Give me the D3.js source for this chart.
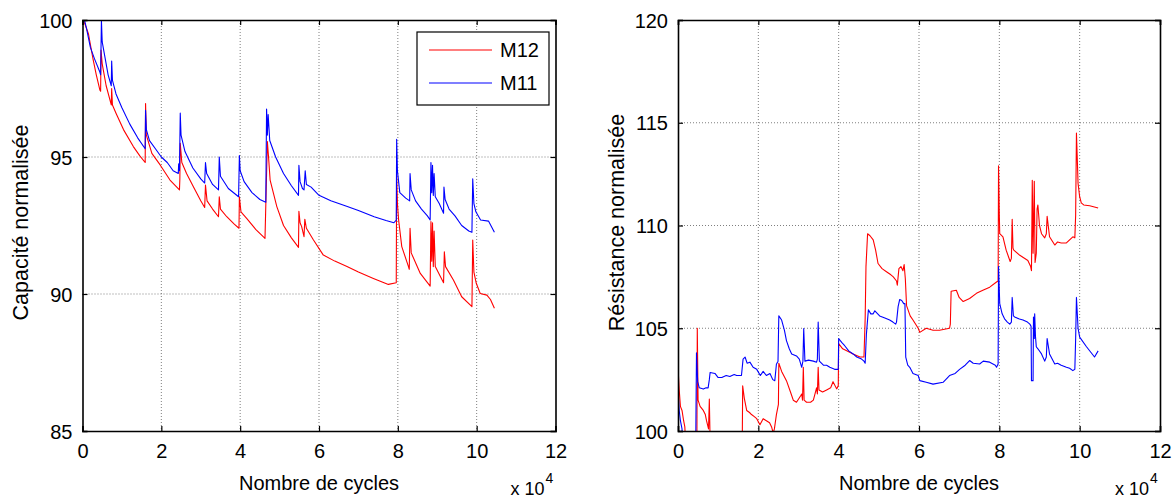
<!DOCTYPE html>
<html>
<head>
<meta charset="utf-8">
<script src="https://cdn.jsdelivr.net/npm/d3@7"></script>
<style>
  html, body { margin: 0; padding: 0; background: #fff; }
  svg { display: block; font-family: "Liberation Sans", Arial, sans-serif; }
</style>
</head>
<body>
<svg id="chart" width="1173" height="500"></svg>
<script>
// ---------------- DATA ----------------
const xTicks = [0, 2, 4, 6, 8, 10, 12];
const capTicks = [85, 90, 95, 100];
const resTicks = [100, 105, 110, 115, 120];
const seriesNames = ["M12", "M11"];
const xLabel = "Nombre de cycles";
const capLabel = "Capacité normalisée";
const resLabel = "Résistance normalisée";

// Capacité normalisée, [cycles x 10^4, %]
const capM12 = [[0,100],[0.05,99.9],[0.15,99.5],[0.27,98.55],[0.35,98.0],[0.44,97.45],[0.46,97.4],[0.47,98.9],[0.5,98.4],[0.6,97.6],[0.73,96.9],[0.74,97.5],[0.76,96.9],[0.85,96.6],[1.04,96.0],[1.29,95.38],[1.45,95.05],[1.59,94.8],[1.6,96.95],[1.62,95.8],[1.76,95.13],[1.97,94.71],[2.22,94.16],[2.46,93.8],[2.47,94.2],[2.48,95.5],[2.52,94.8],[2.64,94.4],[2.81,93.92],[3.0,93.4],[3.1,93.16],[3.12,93.98],[3.16,93.4],[3.3,93.1],[3.45,92.82],[3.47,93.55],[3.5,93.1],[3.66,92.82],[3.85,92.55],[3.97,92.4],[3.98,93.55],[4.02,93.0],[4.17,92.75],[4.4,92.35],[4.63,92.03],[4.69,95.56],[4.72,95.0],[4.76,94.16],[4.93,93.19],[5.1,92.5],[5.3,92.05],[5.48,91.7],[5.49,93.02],[5.52,92.6],[5.56,92.46],[5.62,92.09],[5.64,92.73],[5.68,92.4],[5.86,91.97],[6.11,91.42],[6.4,91.2],[6.71,91.0],[7.0,90.8],[7.38,90.57],[7.76,90.35],[7.96,90.41],[7.97,94.4],[7.99,93.3],[8.02,92.7],[8.1,91.73],[8.27,91.0],[8.29,90.9],[8.31,92.4],[8.34,91.5],[8.57,90.75],[8.82,90.29],[8.84,92.64],[8.86,91.2],[8.88,92.6],[8.9,91.0],[8.92,92.3],[8.95,91.0],[9.16,90.41],[9.18,91.54],[9.21,91.0],[9.41,90.51],[9.62,89.9],[9.88,89.54],[9.9,91.97],[9.93,90.8],[9.99,90.39],[10.09,90.02],[10.26,89.96],[10.35,89.8],[10.45,89.48]];
const capM11 = [[0,100],[0.05,100],[0.1,99.7],[0.2,99.0],[0.3,98.6],[0.44,98.1],[0.46,98.0],[0.48,100],[0.5,99.2],[0.55,98.8],[0.65,98.0],[0.73,97.6],[0.74,98.5],[0.76,97.8],[0.85,97.3],[1.0,96.8],[1.2,96.2],[1.4,95.7],[1.59,95.3],[1.6,96.7],[1.62,96.0],[1.7,95.6],[1.85,95.3],[2.0,95.0],[2.15,94.8],[2.3,94.5],[2.43,94.4],[2.44,94.75],[2.46,94.5],[2.48,96.6],[2.5,95.8],[2.6,95.2],[2.8,94.6],[3.0,94.2],[3.1,94.05],[3.12,94.8],[3.15,94.4],[3.3,94.0],[3.45,93.8],[3.47,95.0],[3.5,94.3],[3.7,93.85],[3.96,93.55],[3.98,95.05],[4.0,94.5],[4.1,94.1],[4.3,93.7],[4.5,93.45],[4.65,93.35],[4.67,96.75],[4.69,95.8],[4.71,96.55],[4.75,95.6],[4.9,95.0],[5.1,94.4],[5.3,93.95],[5.48,93.6],[5.49,94.7],[5.52,94.1],[5.58,93.85],[5.62,93.8],[5.65,94.5],[5.68,94.0],[5.8,93.9],[6.0,93.6],[6.3,93.4],[6.7,93.2],[7.0,93.05],[7.4,92.82],[7.7,92.68],[7.9,92.6],[7.96,92.7],[7.97,95.65],[7.99,94.5],[8.05,93.7],[8.2,93.5],[8.3,93.4],[8.31,94.4],[8.34,93.8],[8.45,93.4],[8.6,93.1],[8.75,92.85],[8.82,92.7],[8.84,94.8],[8.86,93.7],[8.88,94.7],[8.9,93.6],[8.92,94.4],[8.95,93.55],[9.05,93.3],[9.16,92.95],[9.17,93.9],[9.2,93.45],[9.3,93.1],[9.45,92.85],[9.62,92.5],[9.8,92.3],[9.88,92.25],[9.9,94.2],[9.93,93.3],[9.98,93.0],[10.1,92.7],[10.3,92.66],[10.45,92.25]];

// Résistance normalisée, [cycles x 10^4, %]
const resM12 = [[0,103.1],[0.03,102.0],[0.06,101.2],[0.1,101.0],[0.14,100.5],[0.17,100.2],[0.2,99],[0.47,99],[0.48,105.0],[0.5,101.5],[0.55,101.2],[0.63,101.0],[0.68,100.8],[0.71,100.5],[0.76,100.1],[0.78,101.55],[0.8,99.5],[1.6,99.5],[1.61,102.2],[1.65,101.6],[1.71,101.0],[1.78,100.9],[1.83,100.8],[1.9,100.7],[1.96,100.6],[2.04,100.3],[2.12,100.6],[2.2,100.5],[2.28,100.4],[2.33,100.2],[2.37,99.9],[2.4,100.1],[2.45,100.8],[2.5,101.3],[2.51,103.3],[2.58,102.9],[2.7,102.45],[2.8,101.9],[2.87,101.5],[2.95,101.4],[3.05,101.7],[3.08,101.8],[3.1,101.5],[3.12,103.1],[3.14,101.5],[3.2,101.4],[3.3,101.4],[3.37,101.5],[3.45,102.1],[3.47,101.8],[3.49,103.1],[3.51,102.0],[3.6,101.9],[3.7,102.0],[3.8,102.1],[3.86,102.4],[3.95,102.05],[3.99,102.2],[4.0,104.25],[4.1,104.0],[4.2,103.9],[4.36,103.75],[4.53,103.6],[4.63,103.6],[4.66,105.5],[4.68,108.0],[4.72,109.6],[4.78,109.5],[4.86,109.3],[4.92,108.8],[4.98,108.15],[5.08,107.9],[5.19,107.75],[5.3,107.6],[5.36,107.5],[5.44,107.3],[5.46,107.1],[5.5,107.9],[5.55,108.0],[5.6,107.8],[5.63,108.1],[5.66,107.4],[5.69,106.1],[5.78,105.6],[5.85,105.4],[5.98,105.0],[6.02,104.8],[6.18,105.0],[6.35,104.9],[6.51,104.9],[6.76,105.0],[6.78,105.2],[6.8,106.8],[6.93,106.85],[7.0,106.5],[7.1,106.3],[7.26,106.45],[7.43,106.7],[7.59,106.85],[7.76,107.0],[7.93,107.25],[7.97,107.3],[7.98,112.9],[8.0,110.5],[8.01,109.6],[8.09,109.45],[8.17,108.8],[8.27,108.25],[8.3,108.4],[8.32,110.3],[8.34,108.9],[8.36,108.8],[8.51,108.55],[8.71,108.3],[8.78,108.0],[8.8,107.8],[8.82,112.2],[8.84,108.65],[8.87,112.15],[8.89,108.2],[8.92,108.65],[8.94,110.8],[8.96,111.0],[9.0,110.0],[9.05,109.6],[9.13,109.4],[9.17,109.6],[9.19,110.45],[9.25,109.45],[9.38,109.05],[9.45,109.2],[9.54,109.15],[9.67,109.15],[9.83,109.45],[9.88,109.4],[9.9,110.5],[9.92,114.5],[9.96,112.05],[10.0,111.4],[10.04,111.1],[10.1,111.0],[10.25,110.96],[10.46,110.85]];
const resM11 = [[0,102.0],[0.03,101.0],[0.06,100.5],[0.1,100.1],[0.12,99],[0.44,99],[0.46,103.8],[0.49,102.4],[0.53,102.1],[0.63,102.04],[0.7,102.1],[0.75,102.1],[0.78,102.5],[0.8,102.85],[0.92,102.8],[1.0,102.6],[1.09,102.6],[1.2,102.7],[1.29,102.65],[1.4,102.75],[1.46,102.7],[1.58,102.7],[1.62,103.5],[1.67,103.6],[1.72,103.3],[1.79,103.35],[1.87,103.1],[1.96,103.0],[2.05,102.7],[2.12,102.9],[2.2,102.7],[2.29,102.8],[2.36,102.5],[2.41,102.45],[2.45,103.25],[2.49,103.4],[2.51,105.6],[2.58,105.4],[2.65,104.9],[2.7,104.4],[2.77,104.0],[2.83,103.75],[2.95,103.65],[3.02,103.5],[3.08,103.1],[3.11,103.4],[3.13,104.98],[3.16,103.4],[3.25,103.45],[3.37,103.4],[3.45,103.35],[3.47,103.5],[3.49,105.3],[3.52,103.4],[3.62,103.2],[3.7,103.2],[3.78,103.1],[3.9,103.0],[3.99,103.0],[4.0,104.5],[4.08,104.3],[4.15,104.15],[4.25,103.9],[4.36,103.75],[4.45,103.6],[4.57,103.5],[4.63,103.4],[4.66,103.3],[4.69,104.7],[4.74,105.9],[4.8,105.7],[4.86,105.7],[4.9,105.85],[5.02,105.6],[5.15,105.5],[5.27,105.4],[5.35,105.3],[5.42,105.2],[5.44,105.3],[5.48,106.05],[5.52,106.4],[5.57,106.35],[5.62,106.2],[5.65,106.2],[5.67,103.6],[5.72,103.2],[5.77,103.1],[5.85,102.8],[5.98,102.7],[6.02,102.45],[6.18,102.37],[6.35,102.28],[6.6,102.37],[6.76,102.7],[6.9,102.8],[7.01,103.0],[7.15,103.2],[7.26,103.43],[7.35,103.3],[7.51,103.26],[7.6,103.4],[7.76,103.35],[7.9,103.2],[7.93,103.1],[7.97,103.26],[7.98,108.0],[8.01,106.2],[8.07,105.7],[8.13,105.46],[8.2,105.3],[8.26,105.2],[8.3,105.3],[8.32,106.5],[8.35,105.6],[8.38,105.55],[8.5,105.45],[8.59,105.4],[8.7,105.3],[8.76,105.2],[8.79,105.1],[8.8,102.45],[8.84,102.45],[8.85,105.55],[8.87,104.5],[8.88,105.7],[8.9,104.6],[8.92,104.1],[8.96,104.0],[9.05,103.75],[9.13,103.4],[9.17,103.6],[9.19,104.5],[9.25,103.75],[9.38,103.26],[9.45,103.3],[9.54,103.2],[9.67,103.1],[9.75,103.05],[9.83,102.94],[9.88,103.0],[9.9,104.5],[9.92,106.5],[9.96,105.0],[10.0,104.57],[10.17,104.1],[10.37,103.6],[10.46,103.9]];

const colors = { M12: "#ff0000", M11: "#0000ff" };

// ---------------- DRAW ----------------
const svg = d3.select("#chart");
const FONT_TICK = 20, FONT_TITLE = 20, FONT_YTITLE = 21.5;

function panel(opts) {
  const { x0, x1, y0, y1, yDomain, yTicks, series, yTitle, yTitleX, legend, id } = opts;
  const x = d3.scaleLinear().domain([0, 12]).range([x0, x1]);
  const y = d3.scaleLinear().domain(yDomain).range([y1, y0]);
  const g = svg.append("g");

  g.append("rect").attr("x", x0).attr("y", y0).attr("width", x1 - x0).attr("height", y1 - y0).attr("fill", "#fff");

  // grid
  const grid = g.append("g").attr("stroke", "#5e5e5e").attr("stroke-width", 0.8).attr("stroke-dasharray", "1,2");
  xTicks.slice(1, -1).forEach(t => grid.append("line").attr("x1", x(t)).attr("x2", x(t)).attr("y1", y0).attr("y2", y1));
  yTicks.slice(1, -1).forEach(t => grid.append("line").attr("x1", x0).attr("x2", x1).attr("y1", y(t)).attr("y2", y(t)));

  svg.append("clipPath").attr("id", "clip" + id).append("rect")
    .attr("x", x0).attr("y", y0).attr("width", x1 - x0).attr("height", y1 - y0);

  const line = d3.line().x(d => x(d[0])).y(d => y(d[1]));
  const lg = g.append("g").attr("clip-path", `url(#clip${id})`);
  series.forEach(s => {
    lg.append("path").datum(s.data).attr("d", line)
      .attr("fill", "none").attr("stroke", colors[s.name]).attr("stroke-width", 1.1)
      .attr("stroke-linejoin", "round");
  });

  // axes (inward ticks on all sides)
  const tl = 5;
  const axB = g.append("g").attr("transform", `translate(0,${y1})`)
    .call(d3.axisBottom(x).tickValues(xTicks).tickSize(-tl).tickPadding(tl + 8).tickFormat(d3.format("d")));
  const axT = g.append("g").attr("transform", `translate(0,${y0})`)
    .call(d3.axisTop(x).tickValues(xTicks).tickSize(-tl).tickFormat(""));
  const axL = g.append("g").attr("transform", `translate(${x0},0)`)
    .call(d3.axisLeft(y).tickValues(yTicks).tickSize(-tl).tickPadding(tl + 5).tickFormat(d3.format("d")));
  const axR = g.append("g").attr("transform", `translate(${x1},0)`)
    .call(d3.axisRight(y).tickValues(yTicks).tickSize(-tl).tickFormat(""));
  [axB, axT, axL, axR].forEach(a => {
    a.select(".domain").attr("stroke", "#000").attr("stroke-width", 1.6);
    a.selectAll(".tick line").attr("stroke", "#000").attr("stroke-width", 1.2);
    a.selectAll("text").attr("fill", "#000").attr("font-size", FONT_TICK)
      .attr("font-family", "'Liberation Sans', Arial, sans-serif");
  });
  axB.selectAll(".tick text").attr("dy", "0.71em");
  axL.selectAll(".tick text").attr("dy", "0.36em");

  // titles
  g.append("text").attr("x", (x0 + x1) / 2).attr("y", 490).attr("text-anchor", "middle")
    .attr("font-size", FONT_TITLE).text(xLabel);
  g.append("text").attr("transform", `translate(${yTitleX},${(y0 + y1) / 2 - 3}) rotate(-90)`)
    .attr("text-anchor", "middle").attr("font-size", FONT_YTITLE).text(yTitle);

  // x 10^4 multiplier
  const m = g.append("text").attr("x", x1 - 45).attr("y", 495).attr("font-size", 18);
  m.append("tspan").text("x 10");
  m.append("tspan").attr("dy", -12).attr("dx", 1).attr("font-size", 14).text("4");

  if (legend) {
    const lgX0 = 417, lgY0 = 32, lgW = 132, lgH = 73;
    const L = g.append("g");
    L.append("rect").attr("x", lgX0).attr("y", lgY0).attr("width", lgW).attr("height", lgH)
      .attr("fill", "#fff").attr("stroke", "#000").attr("stroke-width", 1.2);
    series.forEach((s, i) => {
      const yy = lgY0 + 18 + i * 33;
      L.append("line").attr("x1", lgX0 + 12).attr("x2", lgX0 + 75).attr("y1", yy).attr("y2", yy)
        .attr("stroke", colors[s.name]).attr("stroke-width", 1.1);
      L.append("text").attr("x", lgX0 + 83).attr("y", yy + 7).attr("font-size", 20).text(s.name);
    });
  }
}

panel({
  id: "L", x0: 82.5, x1: 555.5, y0: 20, y1: 431,
  yDomain: [85, 100], yTicks: capTicks,
  series: [{ name: seriesNames[0], data: capM12 }, { name: seriesNames[1], data: capM11 }],
  yTitle: capLabel, yTitleX: 28, legend: true
});
panel({
  id: "R", x0: 678, x1: 1160, y0: 20, y1: 431,
  yDomain: [100, 120], yTicks: resTicks,
  series: [{ name: seriesNames[0], data: resM12 }, { name: seriesNames[1], data: resM11 }],
  yTitle: resLabel, yTitleX: 624, legend: false
});
</script>
</body>
</html>
